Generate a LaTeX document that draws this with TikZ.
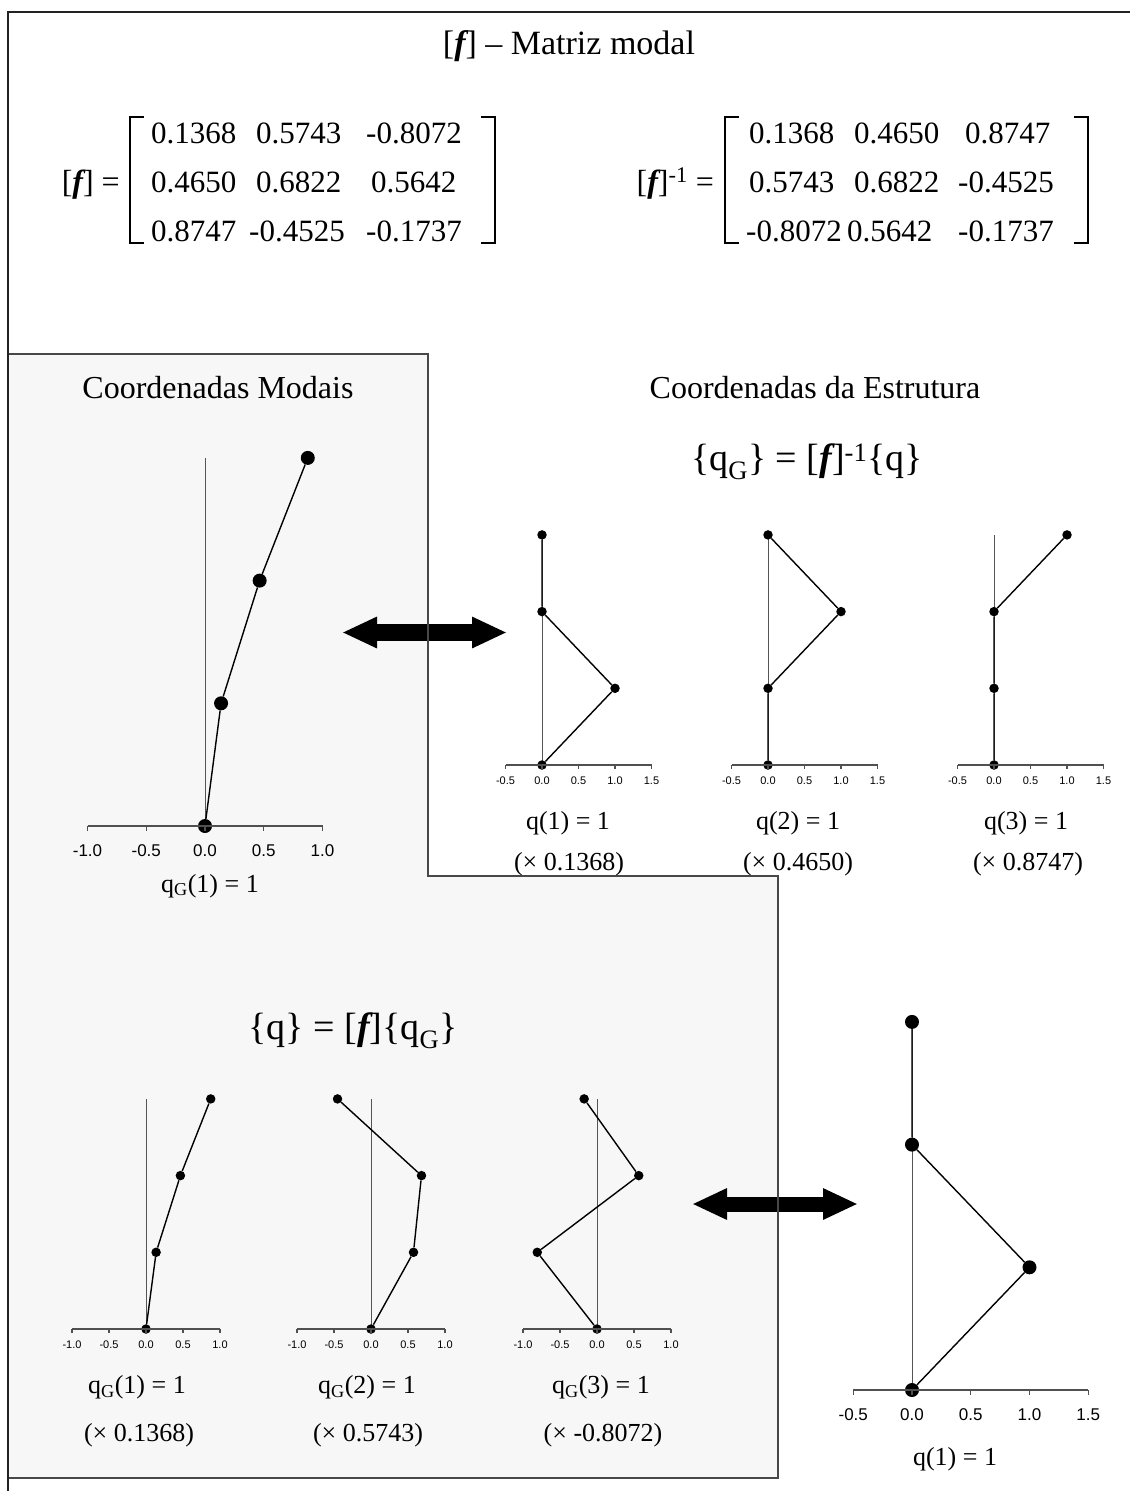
\documentclass[tikz,border=0pt]{standalone}
\usepackage{fontspec}
\setmainfont{Liberation Serif}
\newfontfamily\arialf{Liberation Sans}
\usetikzlibrary{arrows.meta}
\definecolor{panelfill}{HTML}{F7F7F7}
\definecolor{panelline}{HTML}{484848}
\definecolor{refgray}{HTML}{555555}
\definecolor{axisgray}{HTML}{505050}
\definecolor{framecol}{HTML}{222222}
\newcommand\ff{{\bfseries\itshape f}}
\newcommand\qG{q\textsubscript{G}}
\tikzset{
  bigdot/.style={circle, fill=black, inner sep=0pt, minimum size=14pt},
  smalldot/.style={circle, fill=black, inner sep=0pt, minimum size=9.5pt},
  modeline/.style={line width=1.4pt, black},
  refline/.style={line width=0.9pt, refgray},
  axisline/.style={line width=1.2pt, axisgray},
  frameline/.style={line width=2pt, framecol},
  panelborder/.style={line width=1.5pt, panelline},
  bracketline/.style={line width=2.6pt, black},
  txt/.style={font=\fontsize{32}{38}\selectfont, inner sep=0pt},
  ttl/.style={font=\fontsize{34}{40}\selectfont, inner sep=0pt},
  eqn/.style={font=\fontsize{38}{44}\selectfont, inner sep=0pt},
  mtx/.style={font=\fontsize{31}{36}\selectfont, inner sep=0pt, anchor=base west},
  lab/.style={font=\fontsize{26}{30}\selectfont, inner sep=0pt},
  bigtick/.style={font=\arialf\fontsize{17}{20}\selectfont, inner sep=0pt},
  smalltick/.style={font=\arialf\fontsize{11}{13}\selectfont, inner sep=0pt},
  bigarrow/.style={line width=16.5pt, {Triangle[length=35pt, width=29pt]}-{Triangle[length=35pt, width=29pt]}},
  bigarrowb/.style={line width=15pt, {Triangle[length=35pt, width=29pt]}-{Triangle[length=35pt, width=29pt]}},
}
% #1 name, #2 x0, #3 y axis, #4 unit, #5 dy, #6 dot style, #7-#9 values
\newcommand\modeplot[9]{%
  \draw[refline] (#2,#3) -- (#2,{#3-3*#5});
  \node[#6] (#1-0) at (#2,#3) {};
  \node[#6] (#1-1) at ({#2+(#7)*#4},{#3-#5}) {};
  \node[#6] (#1-2) at ({#2+(#8)*#4},{#3-2*#5}) {};
  \node[#6] (#1-3) at ({#2+(#9)*#4},{#3-3*#5}) {};
  \draw[modeline] (#1-0) -- (#1-1) -- (#1-2) -- (#1-3);
}
% #1 name, #2 x0, #3 y, #4 unit, #5 min, #6 max, #7 list value/label
\newcommand\bigaxis[7]{%
  \draw[axisline] ({#2+(#5)*#4},#3) -- ({#2+(#6)*#4},#3);
  \foreach \tickv/\tickl [count=\k] in {#7} {
    \draw[axisline] ({#2+(\tickv)*#4},#3) -- ++(0,5);
    \node[bigtick] (#1-\k) at ({#2+(\tickv)*#4},{#3+25}) {\tickl};
  }
}
\newcommand\smallaxis[7]{%
  \draw[axisline] ({#2+(#5)*#4},#3) -- ({#2+(#6)*#4},#3);
  \foreach \tickv/\tickl [count=\k] in {#7} {
    \draw[axisline] ({#2+(\tickv)*#4},#3) -- ++(0,3.5);
    \node[smalltick] (#1-\k) at ({#2+(\tickv)*#4},{#3+15.5}) {\tickl};
  }
}
\begin{document}
\begin{tikzpicture}[x=1pt,y=-1pt]
\useasboundingbox (0,0) rectangle (1130,1491);
\fill[white] (0,0) rectangle (1130,1491);
\fill[panelfill] (8,354) -- (428,354) -- (428,876) -- (778,876) -- (778,1478) -- (8,1478) -- cycle;

% title
\node[ttl] (title) at (569,46) {[\ff] – Matriz modal};

% left matrix
\node[txt, anchor=base east] (flab) at (120,192) {[\ff] =};
\draw[bracketline] (144,117) -- (130,117) -- (130,243) -- (144,243);
\draw[bracketline] (481,117) -- (495,117) -- (495,243) -- (481,243);
\node[mtx] (m11) at (151,143) {0.1368};
\node[mtx] (m12) at (256,143) {0.5743};
\node[mtx] (m13) at (366,143) {-0.8072};
\node[mtx] (m21) at (151,192) {0.4650};
\node[mtx] (m22) at (256,192) {0.6822};
\node[mtx] (m23) at (371,192) {0.5642};
\node[mtx] (m31) at (151,241) {0.8747};
\node[mtx] (m32) at (249,241) {-0.4525};
\node[mtx] (m33) at (366,241) {-0.1737};

% right matrix
\node[txt, anchor=base east] (filab) at (714,192) {[\ff]\textsuperscript{-1} =};
\draw[bracketline] (739,117) -- (725,117) -- (725,243) -- (739,243);
\draw[bracketline] (1074,117) -- (1088,117) -- (1088,243) -- (1074,243);
\node[mtx] (n11) at (749,143) {0.1368};
\node[mtx] (n12) at (854,143) {0.4650};
\node[mtx] (n13) at (965,143) {0.8747};
\node[mtx] (n21) at (749,192) {0.5743};
\node[mtx] (n22) at (854,192) {0.6822};
\node[mtx] (n23) at (958,192) {-0.4525};
\node[mtx] (n31) at (746,241) {-0.8072};
\node[mtx] (n32) at (847,241) {0.5642};
\node[mtx] (n33) at (958,241) {-0.1737};

% section headings
\node[txt] (hmod) at (218,388) {Coordenadas Modais};
\node[txt] (hest) at (815,388) {Coordenadas da Estrutura};
\node[eqn] (eqtop) at (807,462) {\{\qG\} = [\ff]\textsuperscript{-1}\{q\}};
\node[eqn] (eqbot) at (353,1031) {\{q\} = [\ff]\{\qG\}};

% modal plot (top left)
\modeplot{A}{205}{826}{117.5}{122.7}{bigdot}{0.1368}{0.4650}{0.8747}
\bigaxis{Aax}{205}{826}{117.5}{-1}{1}{-1/-1.0,-0.5/-0.5,0/0.0,0.5/0.5,1/1.0}
\node[lab] (lA) at (210,886) {\qG(1) = 1};

% structure plots (top right)
\modeplot{B1}{542}{765}{73}{76.7}{smalldot}{1}{0}{0}
\modeplot{B2}{768}{765}{73}{76.7}{smalldot}{0}{1}{0}
\modeplot{B3}{994}{765}{73}{76.7}{smalldot}{0}{0}{1}
\smallaxis{B1ax}{542}{765}{73}{-0.5}{1.5}{-0.5/-0.5,0/0.0,0.5/0.5,1/1.0,1.5/1.5}
\smallaxis{B2ax}{768}{765}{73}{-0.5}{1.5}{-0.5/-0.5,0/0.0,0.5/0.5,1/1.0,1.5/1.5}
\smallaxis{B3ax}{994}{765}{73}{-0.5}{1.5}{-0.5/-0.5,0/0.0,0.5/0.5,1/1.0,1.5/1.5}
\node[lab] (lB1) at (568,823) {q(1) = 1};
\node[lab] (lB2) at (798,823) {q(2) = 1};
\node[lab] (lB3) at (1026,823) {q(3) = 1};
\node[lab] (sB1) at (569,864) {(× 0.1368)};
\node[lab] (sB2) at (798,864) {(× 0.4650)};
\node[lab] (sB3) at (1028,864) {(× 0.8747)};

% modal shapes (bottom left)
\modeplot{C1}{146}{1329}{74}{76.7}{smalldot}{0.1368}{0.4650}{0.8747}
\modeplot{C2}{371}{1329}{74}{76.7}{smalldot}{0.5743}{0.6822}{-0.4525}
\modeplot{C3}{597}{1329}{74}{76.7}{smalldot}{-0.8072}{0.5642}{-0.1737}
\smallaxis{C1ax}{146}{1329}{74}{-1}{1}{-1/-1.0,-0.5/-0.5,0/0.0,0.5/0.5,1/1.0}
\smallaxis{C2ax}{371}{1329}{74}{-1}{1}{-1/-1.0,-0.5/-0.5,0/0.0,0.5/0.5,1/1.0}
\smallaxis{C3ax}{597}{1329}{74}{-1}{1}{-1/-1.0,-0.5/-0.5,0/0.0,0.5/0.5,1/1.0}
\node[lab] (lC1) at (137,1387) {\qG(1) = 1};
\node[lab] (lC2) at (367,1387) {\qG(2) = 1};
\node[lab] (lC3) at (601,1387) {\qG(3) = 1};
\node[lab] (sC1) at (139,1435) {(× 0.1368)};
\node[lab] (sC2) at (368,1435) {(× 0.5743)};
\node[lab] (sC3) at (603,1435) {(× -0.8072)};

% structure plot (bottom right)
\modeplot{D}{912}{1390}{117.5}{122.7}{bigdot}{1}{0}{0}
\bigaxis{Dax}{912}{1390}{117.5}{-0.5}{1.5}{-0.5/-0.5,0/0.0,0.5/0.5,1/1.0,1.5/1.5}
\node[lab] (lD) at (955,1459) {q(1) = 1};

% double arrows
\coordinate (a1L) at (342,632.5);
\coordinate (a1R) at (507,632.5);
\draw[bigarrow] (a1L) -- (a1R);
\coordinate (a2L) at (692,1204);
\coordinate (a2R) at (858,1204);
\draw[bigarrowb] (a2L) -- (a2R);

% panel border and frame
\draw[panelborder] (8,354) -- (428,354) -- (428,876) -- (778,876) -- (778,1478) -- (8,1478) -- cycle;
\draw[frameline] (8,1491) -- (8,12) -- (1130,12);
\end{tikzpicture}
\end{document}
